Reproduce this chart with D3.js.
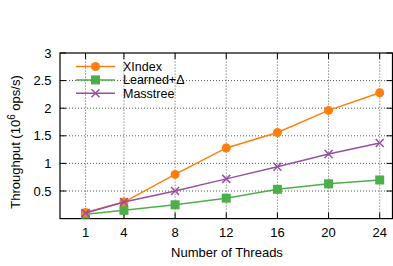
<!DOCTYPE html>
<html lang="en">
<head>
    <meta charset="UTF-8">
    <title>Throughput vs threads</title>
    <script src="https://cdn.jsdelivr.net/npm/d3@7"></script>
    <style>
        body { margin: 0; background: #fff; }
        svg text { font-family: "Liberation Sans", Arial, sans-serif; font-size: 13px; fill: #000; }
        svg .legend text { font-size: 12.5px; }
        .grid line { stroke: #555; stroke-dasharray: 1,2; stroke-width: 1; }
    </style>
</head>
<body>
    <script>
        let threads = [1, 4, 8, 12, 16, 20, 24]
        let xindex = [0.11, 0.30, 0.80, 1.28, 1.56, 1.96, 2.28]
        let learned = [0.08, 0.15, 0.25, 0.37, 0.53, 0.63, 0.70]
        let masstree = [0.10, 0.30, 0.50, 0.72, 0.94, 1.17, 1.37]
        let yTicks = [0.5, 1, 1.5, 2, 2.5, 3]
        let seriesNames = ["XIndex", "Learned+\u0394", "Masstree"]

        let w = 393, h = 266
        let pLeft = 60, pRight = 392.5, pTop = 53, pBottom = 218.6

        let series = [
            { name: seriesNames[0], values: xindex, color: "#ff7f0e", marker: "circle" },
            { name: seriesNames[1], values: learned, color: "#4daf4a", marker: "square" },
            { name: seriesNames[2], values: masstree, color: "#984ea3", marker: "cross" }
        ]

        let x = d3.scaleLinear().domain([-1, 25]).range([pLeft, pRight])
        let y = d3.scaleLinear().domain([0, 3]).range([pBottom, pTop])

        let svg = d3.select("body").append("svg")
            .attr("width", w)
            .attr("height", h)

        // grid
        let grid = svg.append("g").attr("class", "grid")
        grid.selectAll(".gx")
            .data(threads)
            .enter().append("line")
            .attr("x1", d => x(d)).attr("x2", d => x(d))
            .attr("y1", pBottom).attr("y2", pTop)
        grid.selectAll(".gy")
            .data(yTicks.slice(0, -1))
            .enter().append("line")
            .attr("x1", pLeft).attr("x2", pRight)
            .attr("y1", d => y(d)).attr("y2", d => y(d))

        // ticks, inward and mirrored
        let tk = 6
        let ticks = svg.append("g").attr("stroke", "#000").attr("stroke-width", 1)
        threads.forEach(t => {
            ticks.append("line").attr("x1", x(t)).attr("x2", x(t)).attr("y1", pBottom).attr("y2", pBottom - tk)
            ticks.append("line").attr("x1", x(t)).attr("x2", x(t)).attr("y1", pTop).attr("y2", pTop + tk)
        })
        yTicks.forEach(v => {
            ticks.append("line").attr("x1", pLeft).attr("x2", pLeft + tk).attr("y1", y(v)).attr("y2", y(v))
            ticks.append("line").attr("x1", pRight).attr("x2", pRight - tk).attr("y1", y(v)).attr("y2", y(v))
        })

        // tick labels
        svg.append("g").selectAll("text")
            .data(threads)
            .enter().append("text")
            .attr("x", d => x(d))
            .attr("y", pBottom + 18.5)
            .attr("text-anchor", "middle")
            .text(d => d)
        svg.append("g").selectAll("text")
            .data(yTicks)
            .enter().append("text")
            .attr("x", pLeft - 8.5)
            .attr("y", d => y(d) + 4.5)
            .attr("text-anchor", "end")
            .text(d => d)

        // frame
        svg.append("rect")
            .attr("x", pLeft).attr("y", pTop)
            .attr("width", pRight - pLeft).attr("height", pBottom - pTop)
            .attr("fill", "none").attr("stroke", "#000").attr("stroke-width", 1.2)

        // axis titles
        svg.append("text")
            .attr("x", 227)
            .attr("y", 256.5)
            .attr("text-anchor", "middle")
            .text("Number of Threads")

        let yl = svg.append("text")
            .attr("transform", "translate(20,142) rotate(-90)")
            .attr("text-anchor", "middle")
        yl.append("tspan").text("Throughput (10")
        yl.append("tspan").attr("dy", -5).attr("font-size", "10px").text("6")
        yl.append("tspan").attr("dy", 5).text(" ops/s)")

        function drawMarker(g, type, cx, cy, color) {
            if (type === "circle") {
                g.append("circle").attr("cx", cx).attr("cy", cy).attr("r", 4.5).attr("fill", color)
            } else if (type === "square") {
                g.append("rect").attr("x", cx - 4.5).attr("y", cy - 4.5).attr("width", 9).attr("height", 9).attr("fill", color)
            } else {
                let s = 4
                g.append("path")
                    .attr("d", `M${cx - s},${cy - s}L${cx + s},${cy + s}M${cx - s},${cy + s}L${cx + s},${cy - s}`)
                    .attr("stroke", color).attr("stroke-width", 1.5).attr("fill", "none")
            }
        }

        let line = d3.line().x((d, i) => x(threads[i])).y(d => y(d))

        // draw order: green, orange, purple on top
        let order = [1, 0, 2]
        order.forEach(k => {
            let s = series[k]
            let g = svg.append("g")
            g.append("path")
                .attr("d", line(s.values))
                .attr("fill", "none")
                .attr("stroke", s.color)
                .attr("stroke-width", 1.5)
            s.values.forEach((v, i) => drawMarker(g, s.marker, x(threads[i]), y(v), s.color))
        })

        // legend
        let leg = svg.append("g").attr("class", "legend")
        series.forEach((s, i) => {
            let ly = 66.5 + i * 13.4
            leg.append("line")
                .attr("x1", 76).attr("x2", 115)
                .attr("y1", ly).attr("y2", ly)
                .attr("stroke", s.color).attr("stroke-width", 1.5)
            drawMarker(leg, s.marker, 95.5, ly, s.color)
            leg.append("text")
                .attr("x", 123)
                .attr("y", ly + 4.5)
                .text(s.name)
        })
    </script>
</body>
</html>
